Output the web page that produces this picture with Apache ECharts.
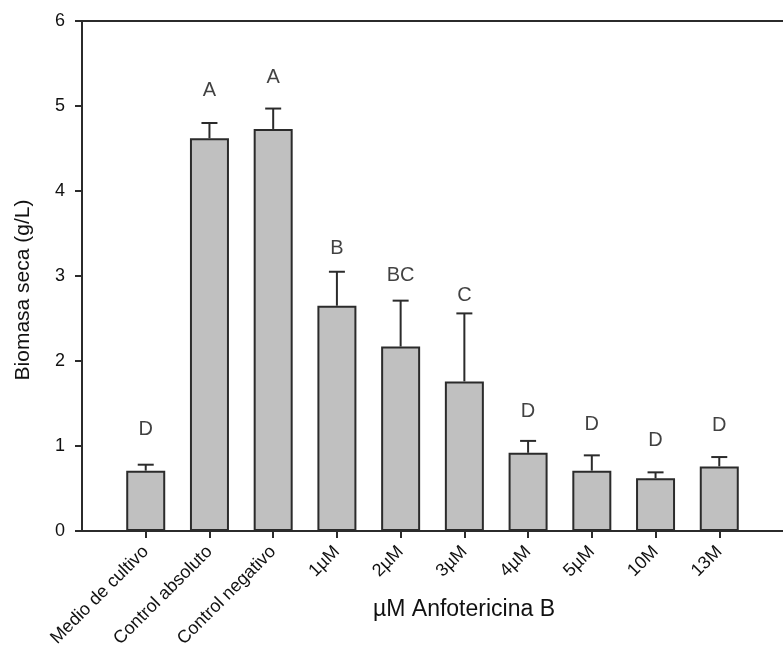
<!DOCTYPE html>
<html>
<head>
<meta charset="utf-8">
<script src="https://cdn.jsdelivr.net/npm/echarts@6/dist/echarts.min.js"></script>
<style>
  html, body { margin: 0; padding: 0; background: #ffffff; }
  #chart { width: 783px; height: 654px; }
</style>
</head>
<body>
<div id="chart"></div>
<script>
// Treatment groups
const categories = ['Medio de cultivo', 'Control absoluto', 'Control negativo',
  '1µM', '2µM', '3µM', '4µM', '5µM', '10M', '13M'];
// Mean dry biomass (g/L)
const biomass = [0.71, 4.62, 4.73, 2.65, 2.17, 1.76, 0.92, 0.71, 0.62, 0.76];
// Upper error (SD)
const errorUp = [0.07, 0.18, 0.24, 0.40, 0.54, 0.80, 0.14, 0.18, 0.07, 0.11];
// Significance letters and the height (g/L) where each one sits
const letters = ['D', 'A', 'A', 'B', 'BC', 'C', 'D', 'D', 'D', 'D'];
const letterPos = [1.20, 5.18, 5.33, 3.32, 3.01, 2.77, 1.41, 1.25, 1.06, 1.24];
// Y axis ticks
const yTicks = [0, 1, 2, 3, 4, 5, 6];

const positions = categories.map((_, i) => i + 1);
const axisColor = '#2b2b2b';
const textColor = '#111111';
const fontFamily = 'Liberation Sans, Arial, sans-serif';

const chart = echarts.init(document.getElementById('chart'), null, { renderer: 'canvas' });

chart.setOption({
  backgroundColor: '#ffffff',
  animation: false,
  grid: { left: 82, top: 21, width: 708, height: 510 },
  xAxis: [{
    type: 'value',
    min: 0, max: categories.length + 1,
    interval: 1,
    splitLine: { show: false },
    axisLine: { show: true, lineStyle: { color: axisColor, width: 2 } },
    axisTick: { show: true, length: 7, customValues: positions, lineStyle: { color: axisColor, width: 2 } },
    axisLabel: {
      customValues: positions,
      rotate: 45,
      margin: 18,
      fontSize: 18,
      color: textColor,
      fontFamily: fontFamily,
      formatter: v => categories[Math.round(v) - 1] || ''
    }
  }, {
    // top border of the frame
    type: 'value', position: 'top',
    min: 0, max: categories.length + 1,
    axisLine: { show: true, lineStyle: { color: axisColor, width: 2 } },
    axisTick: { show: false }, axisLabel: { show: false }, splitLine: { show: false }
  }],
  yAxis: {
    type: 'value',
    min: yTicks[0], max: yTicks[yTicks.length - 1], interval: 1,
    splitLine: { show: false },
    axisLine: { show: true, lineStyle: { color: axisColor, width: 2 } },
    axisTick: { show: true, length: 7, lineStyle: { color: axisColor, width: 2 } },
    axisLabel: { margin: 17, fontSize: 18, color: textColor, fontFamily: fontFamily }
  },
  graphic: [
    {
      type: 'text', x: 464, y: 610,
      style: {
        text: 'µM Anfotericina B', fill: textColor,
        font: '23px ' + fontFamily, textAlign: 'center', textVerticalAlign: 'middle'
      }
    },
    {
      type: 'text', x: 23, y: 290, rotation: Math.PI / 2,
      style: {
        text: 'Biomasa seca (g/L)', fill: textColor,
        font: '21px ' + fontFamily, textAlign: 'center', textVerticalAlign: 'middle'
      }
    }
  ],
  series: [
    {
      type: 'bar',
      barWidth: 39,
      data: positions.map((p, i) => [p, biomass[i]]),
      itemStyle: { color: '#c0c0c0', borderColor: '#2b2b2b', borderWidth: 2 },
      z: 2
    },
    {
      type: 'custom',
      data: positions.map((p, i) => [p, biomass[i], biomass[i] + errorUp[i]]),
      renderItem: (params, api) => {
        const base = api.coord([api.value(0), api.value(1)]);
        const top = api.coord([api.value(0), api.value(2)]);
        const half = 8;
        const style = { stroke: '#2b2b2b', lineWidth: 2 };
        return {
          type: 'group',
          children: [
            { type: 'line', shape: { x1: base[0], y1: base[1], x2: top[0], y2: top[1] }, style: style },
            { type: 'line', shape: { x1: top[0] - half, y1: top[1], x2: top[0] + half, y2: top[1] }, style: style }
          ]
        };
      },
      z: 3
    },
    {
      type: 'scatter',
      symbolSize: 0,
      data: positions.map((p, i) => [p, letterPos[i]]),
      label: {
        show: true, position: 'inside',
        fontSize: 20, color: textColor, fontFamily: fontFamily,
        formatter: p => letters[p.dataIndex]
      },
      z: 4
    }
  ]
});
</script>
</body>
</html>
